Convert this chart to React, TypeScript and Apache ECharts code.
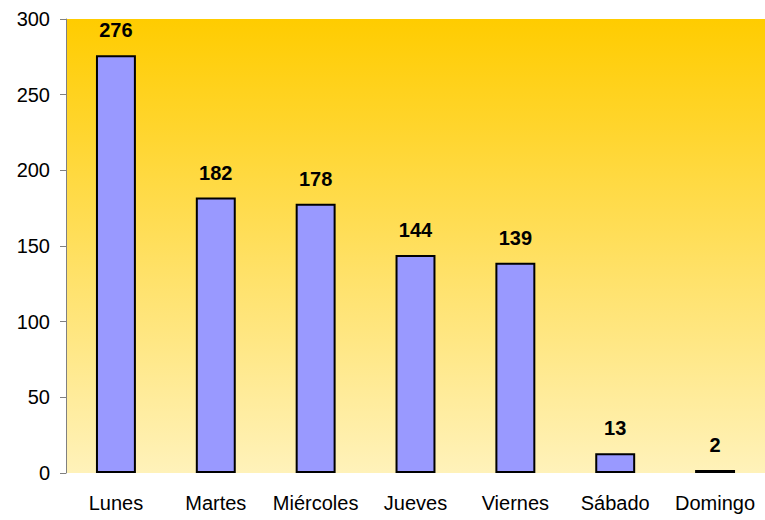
import React, { useEffect, useRef } from "react";
import * as echarts from "echarts";

const categories = ["Lunes", "Martes", "Miércoles", "Jueves", "Viernes", "Sábado", "Domingo"];
const values = [276, 182, 178, 144, 139, 13, 2];

const FONT = "'Liberation Sans', Arial, sans-serif";

export default function App() {
  const ref = useRef<HTMLDivElement>(null);
  useEffect(() => {
    const chart = echarts.init(ref.current!, null, { renderer: "svg" });
    chart.setOption({
      animation: false,
      grid: {
        left: 66,
        right: 0,
        top: 19,
        bottom: 47,
        show: true,
        borderWidth: 0,
        backgroundColor: new echarts.graphic.LinearGradient(0, 0, 0, 1, [
          { offset: 0, color: "#FFCC00" },
          { offset: 1, color: "#FFF2BA" },
        ]),
      },
      xAxis: {
        type: "category",
        data: categories,
        axisLine: { show: false },
        axisTick: { show: false },
        axisLabel: {
          color: "#000",
          fontFamily: FONT,
          fontSize: 20,
          margin: 20,
          interval: 0,
        },
      },
      yAxis: {
        type: "value",
        min: 0,
        max: 300,
        interval: 50,
        splitLine: { show: false },
        axisLine: { show: true, lineStyle: { color: "#808080", width: 1 } },
        axisTick: { show: true, length: 6, lineStyle: { color: "#808080" } },
        axisLabel: {
          color: "#000",
          fontFamily: FONT,
          fontSize: 20,
          margin: 16,
        },
      },
      series: [
        {
          type: "bar",
          data: values,
          barWidth: "40%",
          itemStyle: { color: "#9999FF", borderColor: "#000", borderWidth: 2 },
          label: {
            show: true,
            position: "top",
            distance: 15,
            color: "#000",
            fontWeight: "bold",
            fontFamily: FONT,
            fontSize: 20,
          },
        },
      ],
    });
    return () => chart.dispose();
  }, []);
  return <div ref={ref} style={{ width: 765, height: 520, position: "absolute", left: 0, top: 0 }} />;
}
